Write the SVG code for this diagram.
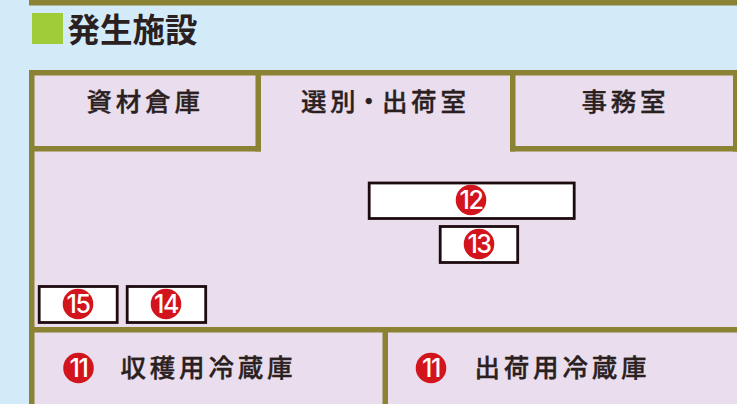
<svg xmlns="http://www.w3.org/2000/svg" width="737" height="404" viewBox="0 0 737 404">
<style>
.wall{fill:#8b8333}
.box{fill:#fff;stroke:#1e0b10;stroke-width:2.8}
.badge{fill:#d2141c}
.num{font-family:"Inter","Liberation Sans",sans-serif;font-size:25px;font-weight:500;fill:#fff;text-anchor:middle;letter-spacing:-1.5px}
.room{font-family:"Noto Sans CJK JP",sans-serif;font-size:25.500px;font-weight:500;fill:#2a2020;stroke:#2a2020;stroke-width:.35;letter-spacing:3.8px}
.title{font-family:"Noto Sans CJK JP",sans-serif;font-size:32.5px;font-weight:700;fill:#2a2020}
</style>
<rect width="737" height="404" fill="#d3ebf9"/>
<rect class="wall" x="29" y="0" width="708" height="5.5"/>
<g id="heading"><rect x="32" y="13" width="31" height="31" fill="#a0cc3a"/><text class="title" x="67.500" y="42">発生施設</text></g>
<rect x="29" y="70" width="708" height="334" fill="#e9ddee"/>
<g id="walls">
<rect class="wall" x="29" y="70" width="708" height="5.5"/>
<rect class="wall" x="29" y="70" width="5.5" height="334"/>
<rect class="wall" x="255.500" y="70" width="5.5" height="81.500"/>
<rect class="wall" x="29" y="146" width="232" height="5.500"/>
<rect class="wall" x="510" y="70" width="5.5" height="81.500"/>
<rect class="wall" x="510" y="146" width="227" height="5.500"/>
<rect class="wall" x="733" y="70" width="4" height="81.500"/>
<rect class="wall" x="29" y="327" width="708" height="5.500"/>
<rect class="wall" x="382.500" y="327" width="5.500" height="77"/>
</g>
<g id="room-shizai"><text class="room" x="86.500" y="110.500">資材倉庫</text></g>
<g id="room-senbetsu"><text class="room" x="301 330 356 382 411 440.500" y="110.500">選別・出荷室</text></g>
<g id="room-jimu"><text class="room" x="581.500" y="110.500">事務室</text></g>
<g id="item-12"><rect class="box" x="369.200" y="183" width="205" height="35.500"/><circle class="badge" cx="471" cy="200" r="15.300"/><text class="num" x="471" y="209">12</text></g>
<g id="item-13"><rect class="box" x="440.200" y="226.500" width="77.500" height="36"/><circle class="badge" cx="479" cy="244" r="15.300"/><text class="num" x="479" y="253">13</text></g>
<g id="item-15"><rect class="box" x="39.200" y="286.500" width="78" height="36"/><circle class="badge" cx="78" cy="304" r="15.300"/><text class="num" x="78" y="313">15</text></g>
<g id="item-14"><rect class="box" x="127.200" y="286.500" width="78.500" height="36"/><circle class="badge" cx="166" cy="304" r="15.300"/><text class="num" x="166" y="313">14</text></g>
<g id="room-shukaku"><circle class="badge" cx="78.500" cy="368" r="15.300"/><text class="num" x="78.500" y="377">11</text><text class="room" x="120.500" y="377">収穫用冷蔵庫</text></g>
<g id="room-shukka"><circle class="badge" cx="431" cy="368" r="15.300"/><text class="num" x="431" y="377">11</text><text class="room" x="474.500" y="377">出荷用冷蔵庫</text></g>
<g id="connectors"></g>
</svg>
